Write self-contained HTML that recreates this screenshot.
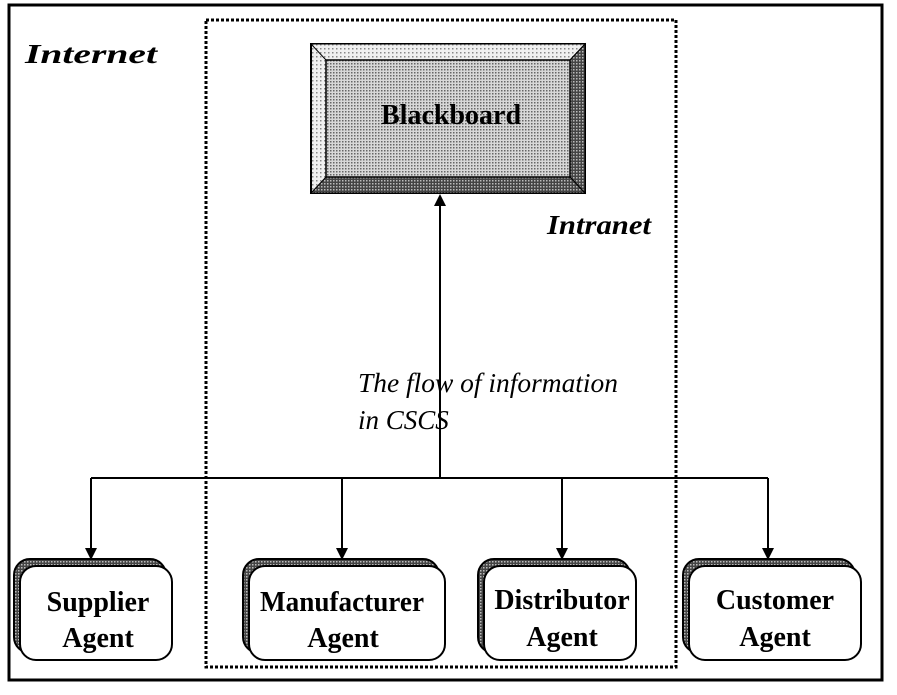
<!DOCTYPE html>
<html><head><style>
body{margin:0;background:#fff;}
</style></head><body>
<svg width="897" height="690" xmlns="http://www.w3.org/2000/svg" font-family="Liberation Serif, serif">
<defs>
<pattern id="dots" width="3" height="3" patternUnits="userSpaceOnUse"><rect width="3" height="3" fill="#d8d8d8"/><rect width="1.5" height="1.5" fill="#666"/></pattern>
<pattern id="dark" width="3" height="3" patternUnits="userSpaceOnUse"><rect width="3" height="3" fill="#444"/><rect width="1.5" height="1.5" fill="#bbb"/></pattern>
<pattern id="light" width="4" height="4" patternUnits="userSpaceOnUse"><rect width="4" height="4" fill="#f0f0f0"/><rect width="1.5" height="1.5" fill="#888"/></pattern>
</defs>
<rect x="9" y="5" width="873" height="675" fill="none" stroke="#000" stroke-width="3"/>
<rect x="206" y="20" width="470" height="647" fill="none" stroke="#000" stroke-width="3" stroke-dasharray="3,2"/>
<rect x="311" y="44" width="274" height="149" fill="url(#light)" stroke="#000" stroke-width="2"/>
<polygon points="311,44 585,44 570,60 326,60" fill="url(#light)" stroke="#000" stroke-width="1"/>
<polygon points="585,44 585,193 570,177 570,60" fill="url(#dark)" stroke="#000" stroke-width="1"/>
<polygon points="311,193 585,193 570,177 326,177" fill="url(#dark)" stroke="#000" stroke-width="1"/>
<rect x="326" y="60" width="244" height="117" fill="url(#dots)" stroke="#000" stroke-width="1.5"/>
<text x="451" y="124" font-size="28" font-weight="bold" text-anchor="middle">Blackboard</text>
<text x="25" y="63" font-size="27" font-weight="bold" font-style="italic" textLength="132" lengthAdjust="spacingAndGlyphs">Internet</text>
<text x="547" y="234" font-size="27" font-weight="bold" font-style="italic" textLength="104" lengthAdjust="spacingAndGlyphs">Intranet</text>
<text x="358" y="392" font-size="27" font-style="italic" textLength="260" lengthAdjust="spacingAndGlyphs">The flow of information</text>
<text x="358" y="429" font-size="27" font-style="italic">in CSCS</text>
<line x1="440" y1="478" x2="440" y2="205" stroke="#000" stroke-width="2"/>
<path d="M434,206 L440,194 L446,206 Z"/>
<line x1="91" y1="478" x2="768" y2="478" stroke="#000" stroke-width="2"/>
<g stroke="#000" stroke-width="2">
<line x1="91" y1="478" x2="91" y2="550"/><line x1="342" y1="478" x2="342" y2="550"/>
<line x1="562" y1="478" x2="562" y2="550"/><line x1="768" y1="478" x2="768" y2="550"/>
</g>
<path d="M85,548 L97,548 L91,560 Z M336,548 L348,548 L342,560 Z M556,548 L568,548 L562,560 Z M762,548 L774,548 L768,560 Z"/>
<g stroke="#000" stroke-width="2">
<rect x="14" y="559" width="152" height="94" rx="16" fill="url(#dark)"/>
<rect x="20" y="566" width="152" height="94" rx="16" fill="#fff"/>
<rect x="243" y="559" width="196" height="94" rx="16" fill="url(#dark)"/>
<rect x="249" y="566" width="196" height="94" rx="16" fill="#fff"/>
<rect x="478" y="559" width="152" height="94" rx="16" fill="url(#dark)"/>
<rect x="484" y="566" width="152" height="94" rx="16" fill="#fff"/>
<rect x="683" y="559" width="172" height="94" rx="16" fill="url(#dark)"/>
<rect x="689" y="566" width="172" height="94" rx="16" fill="#fff"/>
</g>
<g font-size="28" font-weight="bold" text-anchor="middle">
<text x="98" y="611">Supplier</text><text x="98" y="647">Agent</text>
<text x="342" y="611" textLength="164" lengthAdjust="spacingAndGlyphs">Manufacturer</text><text x="343" y="647">Agent</text>
<text x="562" y="609">Distributor</text><text x="562" y="646">Agent</text>
<text x="775" y="609">Customer</text><text x="775" y="646">Agent</text>
</g>
</svg>
</body></html>
